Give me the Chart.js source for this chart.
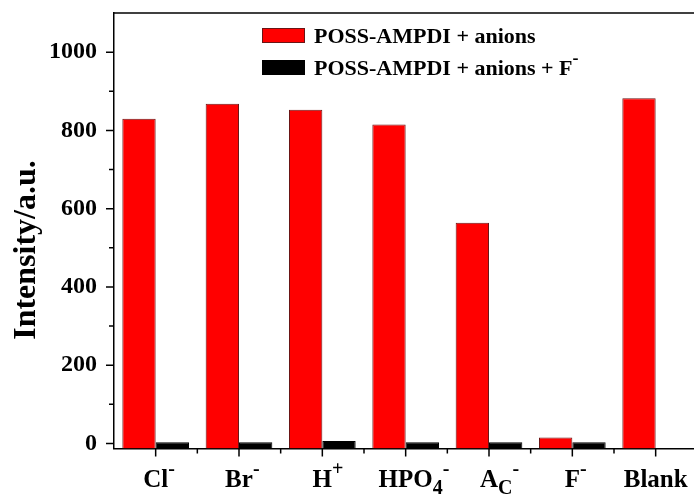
<!DOCTYPE html>
<html>
<head>
<meta charset="utf-8">
<script src="https://cdn.jsdelivr.net/npm/chart.js@4.4.0/dist/chart.umd.min.js"></script>
<style>
  html, body { margin: 0; padding: 0; background: #fff; }
  canvas { display: block; }
</style>
</head>
<body>
<canvas id="myChart" width="694" height="495"></canvas>
<script>
// x categories, each as [text, role] pieces (role: base / sup / sub)
var categories = [
    [['Cl', 'base'], ['-', 'sup']],
    [['Br', 'base'], ['-', 'sup']],
    [['H', 'base'], ['+', 'sup']],
    [['HPO', 'base'], ['4', 'sub'], ['-', 'sup']],
    [['A', 'base'], ['C', 'sub'], ['-', 'sup']],
    [['F', 'base'], ['-', 'sup']],
    [['Blank', 'base']]
];

var withAnions = [830, 868, 853, 815, 564, 15, 882];
var withFluoride = [3, 3, 6, 3, 3, 3, null];

var seriesNames = ['POSS-AMPDI + anions', 'POSS-AMPDI + anions + F\u207B'];
var legendLabels = [
    [['POSS-AMPDI + anions', 'base']],
    [['POSS-AMPDI + anions + F', 'base'], ['-', 'sup']]
];

var yMajorTicks = [0, 200, 400, 600, 800, 1000];
var yMinorTicks = [100, 300, 500, 700, 900];
var yTitle = 'Intensity/a.u.';

var yMin = -13, yMax = 1100;
var SERIF = '"Liberation Serif", "Times New Roman", serif';

function fontOf(size) {
    return 'bold ' + size + 'px ' + SERIF;
}

// draws a run of pieces with raised / lowered parts; x is where the base text starts
function drawPieces(ctx, pieces, x, y, size) {
    var small = Math.round(size * 0.8);
    ctx.textAlign = 'left';
    ctx.textBaseline = 'alphabetic';
    pieces.forEach(function (p) {
        var s = p[1] === 'base' ? size : small;
        var dy = p[1] === 'sup' ? -size * 0.5 : (p[1] === 'sub' ? size * 0.27 : 0);
        ctx.font = fontOf(s);
        ctx.fillText(p[0], x, y + dy);
        x += ctx.measureText(p[0]).width;
    });
}

function baseWidth(ctx, pieces, size) {
    ctx.font = fontOf(size);
    var w = 0;
    for (var i = 0; i < pieces.length && pieces[i][1] === 'base'; i++) {
        w += ctx.measureText(pieces[i][0]).width;
    }
    return w;
}

function noPadding(scale) {
    scale.paddingTop = 0;
    scale.paddingBottom = 0;
    scale.paddingLeft = 0;
    scale.paddingRight = 0;
}

var extras = {
    id: 'extras',
    afterDraw: function (chart) {
        var ctx = chart.ctx;
        var area = chart.chartArea;
        var xs = chart.scales.x, ys = chart.scales.y;
        ctx.save();
        ctx.strokeStyle = '#000';
        ctx.fillStyle = '#000';
        ctx.lineWidth = 1.5;

        // frame line along the top
        ctx.beginPath();
        ctx.moveTo(area.left, area.top);
        ctx.lineTo(area.right, area.top);
        ctx.stroke();

        // tick marks, pointing out
        ctx.beginPath();
        yMajorTicks.forEach(function (v) {
            var py = ys.getPixelForValue(v);
            ctx.moveTo(area.left - 8, py); ctx.lineTo(area.left, py);
        });
        yMinorTicks.forEach(function (v) {
            var py = ys.getPixelForValue(v);
            ctx.moveTo(area.left - 5, py); ctx.lineTo(area.left, py);
        });
        categories.forEach(function (c, i) {
            var px = xs.getPixelForValue(i + 1);
            ctx.moveTo(px, area.bottom); ctx.lineTo(px, area.bottom + 8);
            if (i > 0) {
                var mx = xs.getPixelForValue(i + 0.5);
                ctx.moveTo(mx, area.bottom); ctx.lineTo(mx, area.bottom + 5);
            }
        });
        ctx.stroke();

        // category labels
        categories.forEach(function (c, i) {
            var px = xs.getPixelForValue(i + 1);
            drawPieces(ctx, c, px - baseWidth(ctx, c, 25) / 2, 487, 25);
        });

        // axis title
        ctx.save();
        ctx.translate(27, 250);
        ctx.rotate(-Math.PI / 2);
        ctx.font = fontOf(32);
        ctx.textAlign = 'center';
        ctx.textBaseline = 'middle';
        ctx.fillText(yTitle, 0, 0);
        ctx.restore();

        // legend
        chart.data.datasets.forEach(function (ds, i) {
            var top = 28 + i * 32;
            ctx.fillStyle = ds.backgroundColor;
            ctx.fillRect(262, top, 43, 15);
            ctx.lineWidth = 1;
            ctx.strokeStyle = ds.borderColor;
            ctx.strokeRect(262.5, top + 0.5, 42, 14);
            ctx.fillStyle = '#000';
            drawPieces(ctx, legendLabels[i], 314, top + 15, 22);
        });
        ctx.restore();
    }
};

var ctx = document.getElementById('myChart').getContext('2d');
var chart = new Chart(ctx, {
    type: 'bar',
    data: {
        datasets: [{
            label: seriesNames[0],
            data: withAnions.map(function (v, i) { return { x: i + 1, y: v }; }),
            backgroundColor: '#ff0000',
            borderColor: '#6a1515',
            borderWidth: 1,
            base: yMin,
            categoryPercentage: 0.8,
            barPercentage: 1.0
        }, {
            label: seriesNames[1],
            data: withFluoride.map(function (v, i) { return { x: i + 1, y: v }; }),
            backgroundColor: '#000000',
            borderColor: '#000000',
            borderWidth: 1,
            base: yMin,
            categoryPercentage: 0.8,
            barPercentage: 1.0
        }]
    },
    options: {
        responsive: false,
        animation: false,
        devicePixelRatio: 1,
        layout: { padding: { top: 13, right: 0, left: 0, bottom: 0 } },
        plugins: {
            legend: { display: false },
            tooltip: { enabled: false }
        },
        scales: {
            x: {
                type: 'linear',
                min: 0.5,
                max: 7.46,
                offset: false,
                z: 1,
                grid: { display: false, drawTicks: false },
                border: { display: true, color: '#000', width: 1.5 },
                ticks: { display: false },
                afterBuildTicks: function (scale) {
                    scale.ticks = categories.map(function (c, i) { return { value: i + 1 }; });
                },
                afterFit: function (scale) {
                    scale.height = 46.5;
                    noPadding(scale);
                }
            },
            y: {
                type: 'linear',
                min: yMin,
                max: yMax,
                z: 1,
                grid: { display: false, drawTicks: false },
                border: { display: true, color: '#000', width: 1.5 },
                ticks: {
                    padding: 17,
                    color: '#000',
                    font: { family: SERIF, size: 24, weight: 'bold' },
                    callback: function (value) { return String(value); }
                },
                afterBuildTicks: function (scale) {
                    scale.ticks = yMajorTicks.map(function (v) { return { value: v }; });
                },
                afterFit: function (scale) {
                    scale.width = 114;
                    noPadding(scale);
                }
            }
        }
    },
    plugins: [extras]
});
</script>
</body>
</html>
